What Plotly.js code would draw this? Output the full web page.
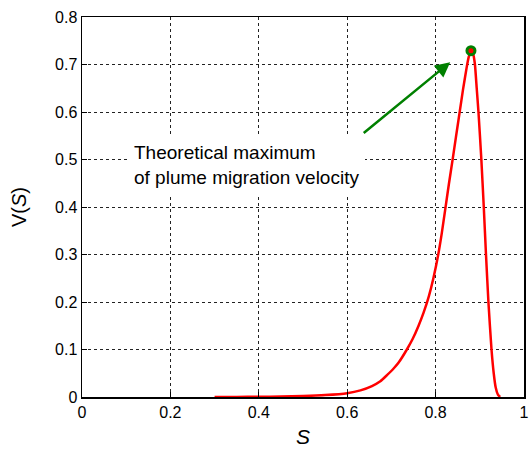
<!DOCTYPE html>
<html>
<head>
<meta charset="utf-8">
<script src="https://cdn.plot.ly/plotly-3.0.1.min.js"></script>
<style>
html,body{margin:0;padding:0;background:#fff;}
#chart{width:529px;height:450px;}
</style>
</head>
<body>
<div id="chart"></div>
<script>
// Saturation S and velocity V(S)
var S = [0.30, 0.35, 0.40, 0.45, 0.50, 0.55, 0.60, 0.63, 0.656, 0.675, 0.69, 0.705, 0.716, 0.735, 0.748, 0.761, 0.773, 0.785, 0.795, 0.806, 0.814, 0.8215, 0.830, 0.839, 0.846, 0.854, 0.862, 0.8705, 0.875, 0.880, 0.885, 0.889, 0.893, 0.897, 0.9035, 0.909, 0.914, 0.9195, 0.9265, 0.9315, 0.936, 0.941, 0.946];
var V = [0.000, 0.0002, 0.0005, 0.001, 0.002, 0.004, 0.008, 0.014, 0.023, 0.033, 0.046, 0.060, 0.072, 0.100, 0.122, 0.149, 0.178, 0.213, 0.250, 0.300, 0.345, 0.393, 0.448, 0.503, 0.547, 0.597, 0.647, 0.695, 0.716, 0.729, 0.722, 0.700, 0.650, 0.600, 0.500, 0.400, 0.300, 0.200, 0.100, 0.050, 0.020, 0.005, 0.000];
var peakS = [0.880];
var peakV = [0.729];
var xTickVals = [0, 0.2, 0.4, 0.6, 0.8, 1];
var xTickText = ["0", "0.2", "0.4", "0.6", "0.8", "1"];
var yTickVals = [0, 0.1, 0.2, 0.3, 0.4, 0.5, 0.6, 0.7, 0.8];
var yTickText = ["0", "0.1", "0.2", "0.3", "0.4", "0.5", "0.6", "0.7", "0.8"];
var noteText = "Theoretical maximum<br>of plume migration velocity";

var font = "Liberation Sans, Arial, Helvetica, sans-serif";

var traces = [
  {x: S, y: V, mode: "lines", type: "scatter",
   line: {color: "#ff0000", width: 2.5, shape: "spline", smoothing: 0.5},
   hoverinfo: "skip", showlegend: false},
  {x: peakS, y: peakV, mode: "markers", type: "scatter",
   marker: {size: 8, color: "#ff0000", line: {color: "#008000", width: 3}},
   hoverinfo: "skip", showlegend: false}
];

var axisCommon = {
  showline: true, mirror: true, linecolor: "#000", linewidth: 1.5,
  ticks: "inside", ticklen: 5, tickcolor: "#000", tickwidth: 1,
  showgrid: true, gridcolor: "#222", gridwidth: 1, griddash: "3px,3px",
  zeroline: false,
  tickfont: {family: font, size: 16, color: "#000"}
};

var layout = {
  width: 529, height: 450,
  margin: {l: 81.5, r: 5, t: 16.5, b: 52.5},
  paper_bgcolor: "#fff", plot_bgcolor: "#fff",
  font: {family: font, color: "#000"},
  xaxis: Object.assign({}, axisCommon, {
    range: [0, 1], tickmode: "array", tickvals: xTickVals, ticktext: xTickText,
    title: {text: "<i>S</i>", font: {family: font, size: 21, color: "#000"}, standoff: 9}
  }),
  yaxis: Object.assign({}, axisCommon, {
    range: [0, 0.8], tickmode: "array", tickvals: yTickVals, ticktext: yTickText,
    title: {text: "V(<i>S</i>)", font: {family: font, size: 20, color: "#000"}, standoff: 23}
  }),
  annotations: [
    {xref: "x", yref: "y", x: 0.105, y: 0.55, xanchor: "left", yanchor: "top",
     text: noteText, align: "left", showarrow: false,
     bgcolor: "#fff", borderpad: 6, borderwidth: 0,
     font: {family: font, size: 19, color: "#000"}},
    {xref: "x", yref: "y", axref: "x", ayref: "y",
     x: 0.833, y: 0.705, ax: 0.634, ay: 0.553, text: "",
     showarrow: true, arrowhead: 2, arrowsize: 1.2, arrowwidth: 2.5, arrowcolor: "#008000"}
  ]
};

Plotly.newPlot("chart", traces, layout, {displayModeBar: false, staticPlot: true});
</script>
</body>
</html>
